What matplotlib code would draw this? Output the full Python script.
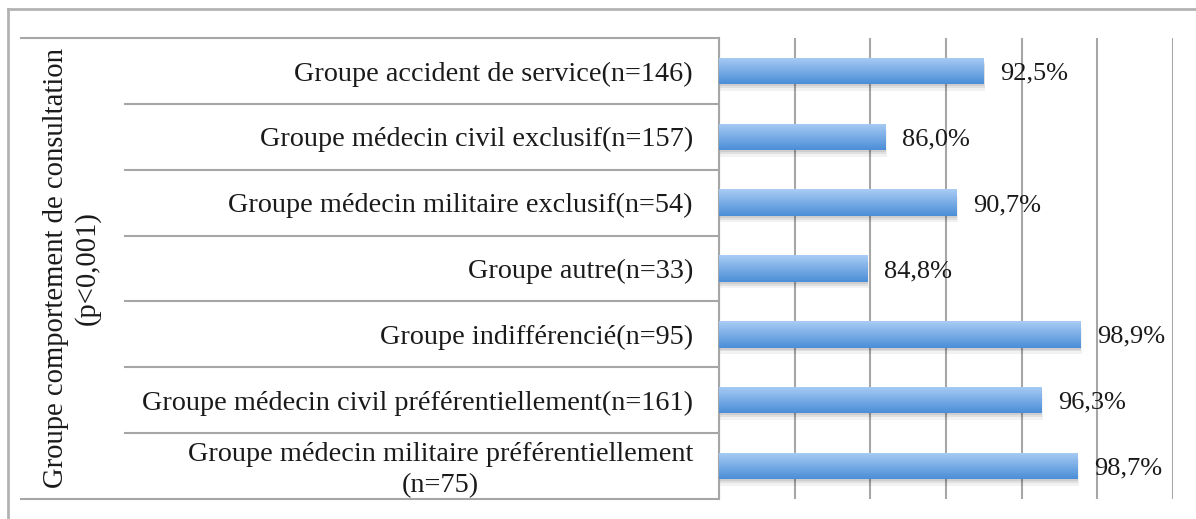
import numpy as np
import matplotlib
matplotlib.use('Agg')
import matplotlib.pyplot as plt
from matplotlib import transforms
from matplotlib.colors import LinearSegmentedColormap

plt.rcParams['font.family'] = ['Liberation Serif', 'DejaVu Serif']

# data, top row first
groups = ['Groupe accident de service(n=146)',
          'Groupe médecin civil exclusif(n=157)',
          'Groupe médecin militaire exclusif(n=54)',
          'Groupe autre(n=33)',
          'Groupe indifférencié(n=95)',
          'Groupe médecin civil préférentiellement(n=161)',
          'Groupe médecin militaire préférentiellement\n(n=75)']
values = [92.5, 86.0, 90.7, 84.8, 98.9, 96.3, 98.7]
value_labels = ['92,5%', '86,0%', '90,7%', '84,8%', '98,9%', '96,3%', '98,7%']
ylabel = 'Groupe comportement de consultation\n(p<0,001)'

W, H = 1196, 519
fig = plt.figure(figsize=(W / 100, H / 100), dpi=100)
ax = fig.add_axes([719 / W, 1 - 499 / H, (1173 - 719) / W, (499 - 38) / H])

n = len(groups)
ypos = np.arange(n)
bar_h = 0.4
grid_c = '#a6a6a6'
# light on top, darker at the bottom
cmap = LinearSegmentedColormap.from_list('bar', ['#a9ccf5', '#4b8ed7'])
grad = np.linspace(0, 1, 64).reshape(-1, 1)

for y, v in zip(ypos, values):
    # soft shadow
    for k, a in [(0.10, 0.05), (0.06, 0.07), (0.03, 0.08)]:
        ax.barh(y + k, v - 75 + k * 0.8, left=75, height=bar_h, color='#000000',
                alpha=a, linewidth=0, zorder=2)
    bar = ax.barh(y, v - 75, left=75, height=bar_h, color='#6fa8e6',
                  linewidth=0, zorder=3)[0]
    im = ax.imshow(grad, extent=(75, v, y + bar_h / 2, y - bar_h / 2),
                   cmap=cmap, aspect='auto', origin='upper', zorder=4)
    im.set_clip_path(bar)

for y, v, lab in zip(ypos, values, value_labels):
    ax.annotate(lab, (v, y), xytext=(12, 0), textcoords='offset points',
                ha='left', va='center_baseline', fontsize=19, color='#1a1a1a',
                zorder=5)

ax.set_xlim(75, 105)
ax.set_ylim(n - 0.5, -0.5)
ax.set_xticks(np.arange(75, 106, 5))
ax.set_yticks([])
ax.tick_params(axis='x', length=0, labelbottom=False)
ax.grid(axis='x', color=grid_c, linewidth=1.5, zorder=0)
ax.set_axisbelow(True)
for s in ['top', 'right', 'bottom']:
    ax.spines[s].set_visible(False)
ax.spines['left'].set_color(grid_c)
ax.spines['left'].set_linewidth(1.5)

# table on the left
trans = transforms.blended_transform_factory(fig.transFigure, ax.transData)
x_axis = 719 / W
for b in np.arange(-0.5, n, 1.0):
    x0 = 21 / W if b in (-0.5, n - 0.5) else 125 / W
    ax.plot([x0, x_axis], [b, b], transform=trans, color=grid_c, lw=1.5,
            clip_on=False, zorder=1)

down = transforms.ScaledTranslation(0, -4 / 100, fig.dpi_scale_trans)
for y, g in zip(ypos, groups):
    if '\n' in g:
        fig.text(693 / W, y, g, transform=trans + down, ha='right', va='center',
                 multialignment='center', fontsize=20.3, color='#1a1a1a',
                 linespacing=1.35)
    else:
        fig.text(693 / W, y, g, transform=trans, ha='right',
                 va='center_baseline', fontsize=20.3, color='#1a1a1a')

fig.text(72 / W, (1 - 499 / H + 1 - 38 / H) / 2, ylabel, rotation=90,
         ha='center', va='center', multialignment='center', fontsize=20.6,
         color='#1a1a1a', linespacing=1.2)

# outer frame (top and left edges visible)
fig.add_artist(plt.Line2D([8 / W, 1], [1 - 9 / H, 1 - 9 / H],
                          transform=fig.transFigure, color='#b3b3b3', lw=2))
fig.add_artist(plt.Line2D([8 / W, 8 / W], [0, 1 - 9 / H],
                          transform=fig.transFigure, color='#b3b3b3', lw=2))

fig.savefig('out.png', dpi=100)
